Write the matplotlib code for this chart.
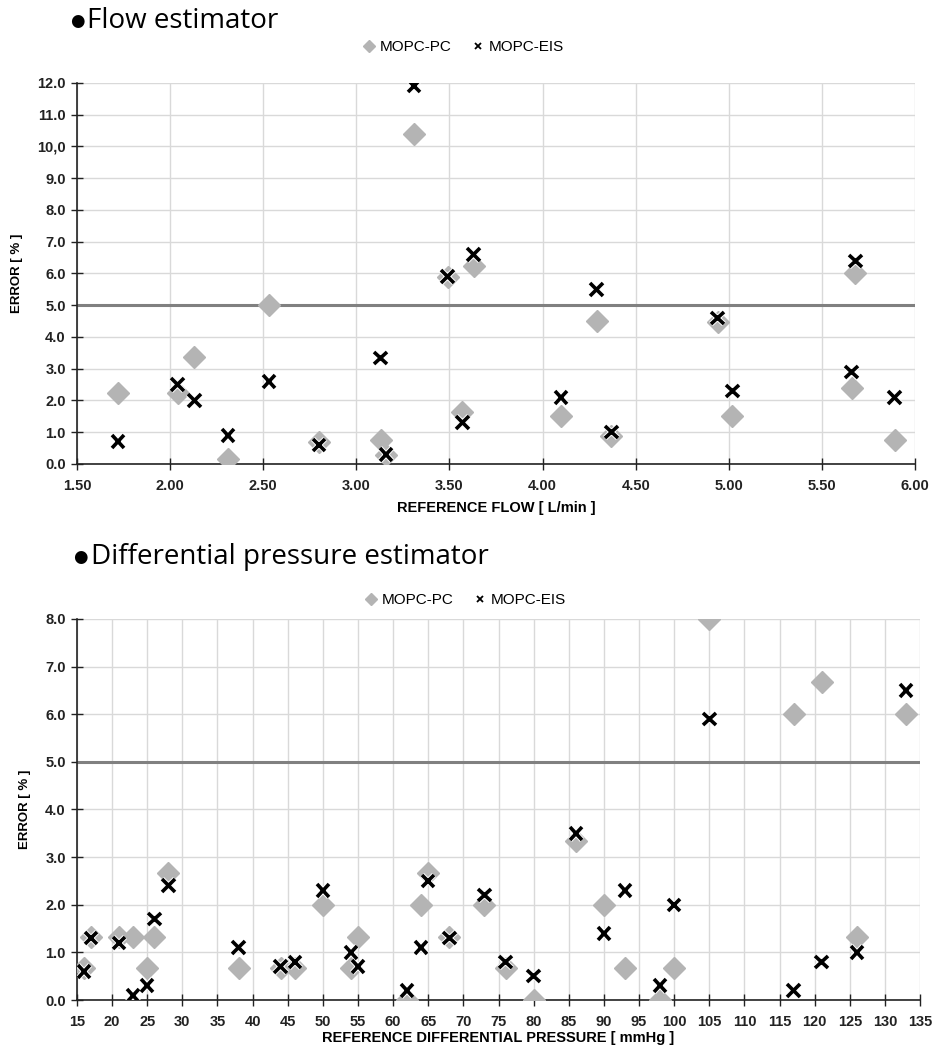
import matplotlib
matplotlib.use("Agg")
import matplotlib.pyplot as plt
import matplotlib.patheffects as pe
import numpy as np

# flow estimator data
flow_ref = [1.72, 2.04, 2.13, 2.31, 2.53, 2.80, 3.13, 3.16, 3.31, 3.49,
            3.57, 3.63, 4.10, 4.29, 4.37, 4.94, 5.02, 5.66, 5.68, 5.89]
flow_pc = [2.25, 2.25, 3.38, 0.15, 5.0, 0.68, 0.75, 0.27, 10.4, 5.9,
           1.63, 6.25, 1.5, 4.5, 0.88, 4.47, 1.5, 2.38, 6.0, 0.75]
flow_eis = [0.7, 2.5, 2.0, 0.9, 2.6, 0.6, 3.33, 0.3, 11.9, 5.9,
            1.3, 6.6, 2.1, 5.5, 1.0, 4.6, 2.3, 2.9, 6.4, 2.1]

# differential pressure estimator data
dp_ref = [16, 17, 21, 23, 25, 26, 28, 38, 44, 46, 50, 54, 55, 62, 64,
          65, 68, 73, 76, 80, 86, 90, 93, 98, 100, 105, 117, 121, 126, 133]
dp_pc = [0.67, 1.33, 1.33, 1.33, 0.67, 1.33, 2.67, 0.67, 0.67, 0.67, 2.0, 0.67, 1.33, 0.0, 2.0,
         2.67, 1.33, 2.0, 0.67, 0.0, 3.33, 2.0, 0.67, 0.0, 0.67, 8.0, 6.0, 6.67, 1.33, 6.0]
dp_eis = [0.6, 1.3, 1.2, 0.1, 0.3, 1.7, 2.4, 1.1, 0.7, 0.8, 2.3, 1.0, 0.7, 0.2, 1.1,
          2.5, 1.3, 2.2, 0.8, 0.5, 3.5, 1.4, 2.3, 0.3, 2.0, 5.9, 0.2, 0.8, 1.0, 6.5]

flow_yticks = ["0.0", "1.0", "2.0", "3.0", "4.0", "5.0", "6.0", "7.0", "8.0", "9.0", "10,0", "11.0", "12.0"]
flow_xticks = ["1.50", "2.00", "2.50", "3.00", "3.50", "4.00", "4.50", "5.00", "5.50", "6.00"]

plt.rcParams['font.family'] = ['Liberation Sans', 'DejaVu Sans']

fig = plt.figure(figsize=(9.33, 10.53), dpi=100)

PC_COL = '#b4b4b4'
white_edge = [pe.Stroke(linewidth=4, foreground='white'), pe.Normal()]


def draw(ax, x, pc, eis, xlim, xticks, xtl, ylim, yticks, ytl, xlabel, leg_y, lpad):
    ax.set_axisbelow(True)
    ax.grid(True, color='#d9d9d9', lw=1)
    ax.axhline(5.0, color='#808080', lw=2.2, zorder=2)
    ax.plot(x, pc, ls='none', marker='D', ms=11, color=PC_COL, mec=PC_COL, zorder=3, label='MOPC-PC')
    ax.plot(x, eis, ls='none', marker='x', ms=9, mew=2.6, color='black', zorder=4,
            label='MOPC-EIS', path_effects=white_edge)
    ax.set_xlim(*xlim)
    ax.set_ylim(*ylim)
    ax.set_xticks(xticks)
    ax.set_xticklabels(xtl)
    ax.set_yticks(yticks)
    ax.set_yticklabels(ytl)
    for s in ['top', 'right']:
        ax.spines[s].set_visible(False)
    for s in ['left', 'bottom']:
        ax.spines[s].set_color('#222222')
        ax.spines[s].set_linewidth(1.2)
    ax.tick_params(direction='inout', length=9, width=1, color='#222222',
                   labelsize=10.5, labelcolor='#222222')
    ax.tick_params(axis='x', pad=6)
    for t in ax.get_xticklabels() + ax.get_yticklabels():
        t.set_fontweight('bold')
    ax.set_xlabel(xlabel, fontsize=10.5, fontweight='bold', labelpad=lpad)
    ax.set_ylabel('ERROR [ % ]', fontsize=9.5, fontweight='bold', labelpad=10)
    h1, = ax.plot([], [], ls='none', marker='D', ms=6, color=PC_COL)
    h2, = ax.plot([], [], ls='none', marker='x', ms=5, mew=1.3, color='black')
    ax.legend([h1, h2], ['MOPC-PC', 'MOPC-EIS'], loc='center', bbox_to_anchor=(0.46, leg_y),
              ncol=2, frameon=False, fontsize=11, handletextpad=0.2, columnspacing=1.2,
              handlelength=1.0, borderaxespad=0.0)


ax1 = fig.add_axes([0.0825, 0.5594, 0.8982, 0.3618])
draw(ax1, flow_ref, flow_pc, flow_eis, (1.5, 6.0), np.arange(1.5, 6.01, 0.5), flow_xticks,
     (0, 12), np.arange(0, 12.1, 1), flow_yticks, 'REFERENCE FLOW [ L/min ]', 1.094, 6)

dp_ticks = np.arange(15, 136, 5)
ax2 = fig.add_axes([0.0825, 0.0503, 0.9036, 0.3619])
draw(ax2, dp_ref, dp_pc, dp_eis, (15, 135), dp_ticks, [str(v) for v in dp_ticks],
     (0, 8), np.arange(0, 8.1, 1), ["%.1f" % v for v in np.arange(0, 8.1, 1)],
     'REFERENCE DIFFERENTIAL PRESSURE [ mmHg ]', 1.05, 2)

title_font = ['Open Sans', 'DejaVu Sans']
fig.text(0.075, 0.980, '\u25cf', fontsize=12, family=['DejaVu Sans'], va='center')
fig.text(0.093, 0.980, 'Flow estimator', fontsize=20, family=title_font, va='center')
fig.text(0.078, 0.471, '\u25cf', fontsize=12, family=['DejaVu Sans'], va='center')
fig.text(0.097, 0.471, 'Differential pressure estimator', fontsize=20, family=title_font, va='center')

fig.savefig('out.png', dpi=100)
